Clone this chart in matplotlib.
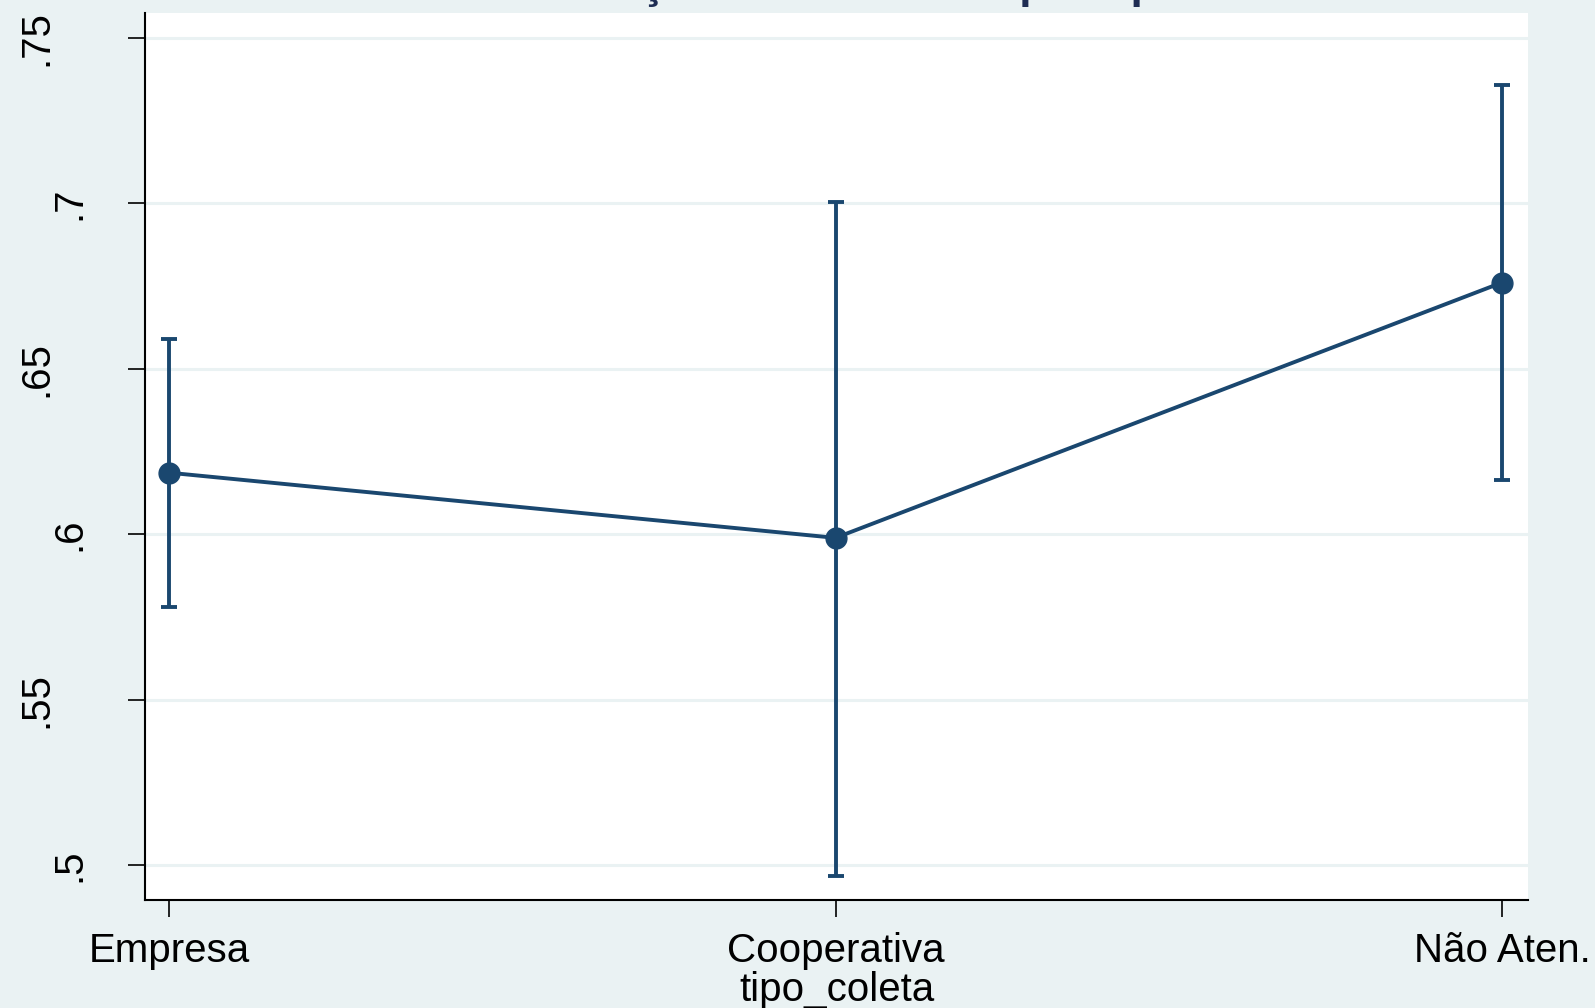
"""
Margins of tipo_coleta with 95% CIs, Stata s2color look.
"""

import matplotlib.pyplot as plt
from matplotlib.transforms import ScaledTranslation

categories = ["Empresa", "Cooperativa", "Não Aten."]
margins = [0.6186, 0.5989, 0.6761]
ci_low = [0.5781, 0.4967, 0.6164]
ci_high = [0.6589, 0.7006, 0.7358]
y_ticks = [0.5, 0.55, 0.6, 0.65, 0.7, 0.75]
y_tick_labels = [".5", ".55", ".6", ".65", ".7", ".75"]
title = "Avaliação dos usuários por tipo de coleta"

BG = "#EAF2F3"
NAVY = "#1A476F"

plt.rcParams["font.family"] = ["Liberation Sans", "DejaVu Sans"]

fig = plt.figure(figsize=(15.95, 10.08), dpi=100, facecolor=BG)
ax = fig.add_axes([145 / 1595, 1 - 900 / 1008, (1528 - 145) / 1595, (900 - 13) / 1008])
ax.set_facecolor("white")

xs = list(range(len(categories)))
err_lo = [m - lo for m, lo in zip(margins, ci_low)]
err_hi = [hi - m for m, hi in zip(margins, ci_high)]

ax.errorbar(xs, margins, yerr=[err_lo, err_hi], fmt="none", ecolor=NAVY,
            elinewidth=2.8, capsize=6, capthick=2.8, zorder=3)
ax.plot(xs, margins, color=NAVY, lw=2.8, marker="o", markersize=15, zorder=4)

ax.set_xlim(-0.036, 2.039)
ax.set_ylim(0.4894, 0.7576)

# grid
ax.set_yticks(y_ticks)
ax.yaxis.grid(True, color=BG, lw=2.2)
ax.set_axisbelow(True)

for side in ["top", "right"]:
    ax.spines[side].set_visible(False)
for side in ["left", "bottom"]:
    ax.spines[side].set_linewidth(1.5)
    ax.spines[side].set_color("black")

ax.set_xticks(xs)
ax.set_xticklabels(categories, fontsize=29)
ax.tick_params(axis="x", length=12, width=1.2, pad=11)
ax.tick_params(axis="y", length=12, width=1.2, labelleft=False)

# Stata-style vertical y labels (longer labels sit further left)
for v, lbl in zip(y_ticks, y_tick_labels):
    dx = (-65 - 33 * (len(lbl) - 2)) / 100
    tr = ax.get_yaxis_transform() + ScaledTranslation(dx, 0, fig.dpi_scale_trans)
    ax.text(0, v, lbl, transform=tr, rotation=90, rotation_mode="anchor",
            ha="center", va="baseline", fontsize=29)

ax.set_xlabel("tipo_coleta", fontsize=29, labelpad=1)

# title mostly cut off at the top edge, as in the original export
fig.text(511 / 1595, 1 + 2 / 1008, title, fontsize=32, fontweight="bold",
         color="#1E2D53", ha="left", va="baseline")

plt.savefig("out.png", dpi=100, facecolor=BG)
